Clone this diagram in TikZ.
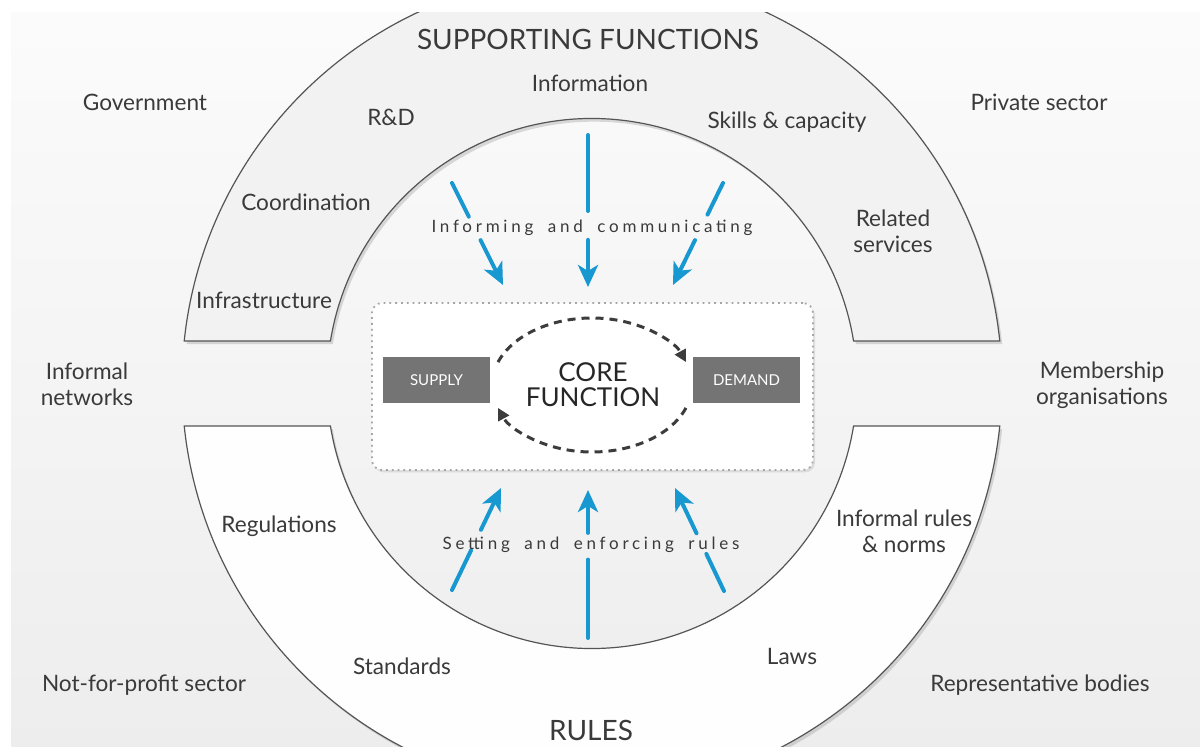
\documentclass[tikz,border=0pt]{standalone}
\usepackage{fontspec}
\setmainfont{Lato}
\newfontfamily\spacedfont[LetterSpace=22,WordSpace=1.8]{Lato}
\usetikzlibrary{arrows.meta,calc,shadows}
\definecolor{txt}{HTML}{3A3A3A}
\definecolor{arrowblue}{HTML}{1798D1}
\definecolor{dashcol}{HTML}{3C3C3C}
\definecolor{bandline}{HTML}{555555}
\definecolor{sdfill}{HTML}{747474}
\newcommand\gappedarrow[4]{%
  \draw[blueline] (#1) -- ($(#1)!#3!(#2)$);
  \draw[bluearrow] ($(#1)!#4!(#2)$) -- (#2);}
\begin{document}
\begin{tikzpicture}[x=0.5pt,y=0.5pt,
  lbl/.style={text=txt,font=\fontsize{11.3}{13}\selectfont,align=center,inner sep=0pt},
  title/.style={text=txt,font=\fontsize{14}{16}\selectfont,anchor=base,inner sep=0pt},
  spaced/.style={text=txt,font=\spacedfont\fontsize{8.5}{9}\selectfont,inner sep=0pt},
  band/.style={draw=bandline,line width=0.6pt,drop shadow={opacity=0.28,shadow xshift=1.2pt,shadow yshift=-1.6pt}},
  upperband/.style={band,fill=gray!10},
  lowerband/.style={band,fill=gray!1},
  corebox/.style={draw=gray!70,dotted,line width=0.9pt,fill=white,rounded corners=5pt,
     minimum width=220.5pt,minimum height=83.5pt,drop shadow={opacity=0.2,shadow xshift=1pt,shadow yshift=-1.2pt}},
  sdbox/.style={fill=sdfill,text=white,minimum width=53.5pt,minimum height=23pt,inner sep=0pt,
     font=\fontsize{7.5}{8}\selectfont},
  corelabel/.style={text=black!85,font=\fontsize{13}{12.5}\selectfont,align=center,inner sep=0pt},
  cyclearrow/.style={draw=dashcol,line width=1.5pt,dash pattern=on 4pt off 3pt,-{Triangle[length=6pt,width=6pt]}},
  blueline/.style={draw=arrowblue,line width=2pt,line cap=round},
  bluearrow/.style={blueline,-{Stealth[length=11pt,width=10pt,inset=3pt]}}
]
\useasboundingbox (0,0) rectangle (1200,746);
\fill[white] (0,0) rectangle (1200,746);
\shade[top color=gray!3,bottom color=gray!14] (11,0) rectangle (1200,733);

\coordinate (C) at (592,362.5);

\begin{scope}
\clip (11,0) rectangle (1200,733);
\path[upperband] ($(C)+(5.95:410)$) arc[start angle=5.95,end angle=174.05,radius=410]
  -- ($(C)+(170.77:265)$) arc[start angle=170.77,end angle=9.23,radius=265] -- cycle;
\path[lowerband] ($(C)+(-5.95:410)$) arc[start angle=-5.95,end angle=-174.05,radius=410]
  -- ($(C)+(-170.77:265)$) arc[start angle=-170.77,end angle=-9.23,radius=265] -- cycle;
\end{scope}

% core function box
\node[corebox] (core) at (592.5,359.5) {};
\node[sdbox] (supply) at (436.5,366) {SUPPLY};
\node[sdbox] (demand) at (746.5,366) {DEMAND};
\node[corelabel] (corelbl) at (593,361) {CORE\\FUNCTION};
\coordinate (E) at (592,361);
\draw[cyclearrow] ($(E)+(160:100 and 67)$) arc[start angle=160,end angle=20,x radius=100,y radius=67];
\draw[cyclearrow] ($(E)+(-20:100 and 67)$) arc[start angle=-20,end angle=-160,x radius=100,y radius=67];

% blue arrows (top)
\coordinate (t1s) at (452,563); \coordinate (t1e) at (503,461);
\coordinate (t2s) at (588,611); \coordinate (t2e) at (588,459);
\coordinate (t3s) at (723,563); \coordinate (t3e) at (673,461);
\gappedarrow{t1s}{t1e}{0.33}{0.56}
\gappedarrow{t2s}{t2e}{0.50}{0.69}
\gappedarrow{t3s}{t3e}{0.31}{0.56}
% blue arrows (bottom)
\coordinate (b1s) at (452,156); \coordinate (b1e) at (501,258);
\coordinate (b2s) at (588,108); \coordinate (b2e) at (588,256);
\coordinate (b3s) at (724,155); \coordinate (b3e) at (675,258);
\gappedarrow{b1s}{b1e}{0.39}{0.59}
\gappedarrow{b2s}{b2e}{0.53}{0.71}
\gappedarrow{b3s}{b3e}{0.36}{0.56}

\node[spaced] (inform) at (592,518) {Informing and communicating};
\node[spaced] (setting) at (591,201) {Setting and enforcing rules};

% titles
\node[title] (sf) at (588,696) {SUPPORTING FUNCTIONS};
\node[title] (rules) at (591,6) {RULES};

% supporting functions labels
\node[lbl] (info) at (590,663) {Information};
\node[lbl] (rd) at (391,629) {R\&D};
\node[lbl] (skills) at (787,624) {Skills \& capacity};
\node[lbl] (coord) at (306,544) {Coordination};
\node[lbl] (related) at (893,515) {Related\\services};
\node[lbl] (infra) at (264,446) {Infrastructure};

% rules labels
\node[lbl] (regs) at (279,220) {Regulations};
\node[lbl] (informal) at (904,215) {Informal rules\\\& norms};
\node[lbl] (standards) at (402,80) {Standards};
\node[lbl] (laws) at (792,90) {Laws};

% actors
\node[lbl] (gov) at (145,644) {Government};
\node[lbl] (priv) at (1039,644) {Private sector};
\node[lbl] (infnet) at (87,362) {Informal\\networks};
\node[lbl] (member) at (1102,361) {Membership\\organisations};
\node[lbl] (nfp) at (144,61) {Not-for-profit sector};
\node[lbl] (rep) at (1040,61) {Representative bodies};
\end{tikzpicture}
\end{document}
